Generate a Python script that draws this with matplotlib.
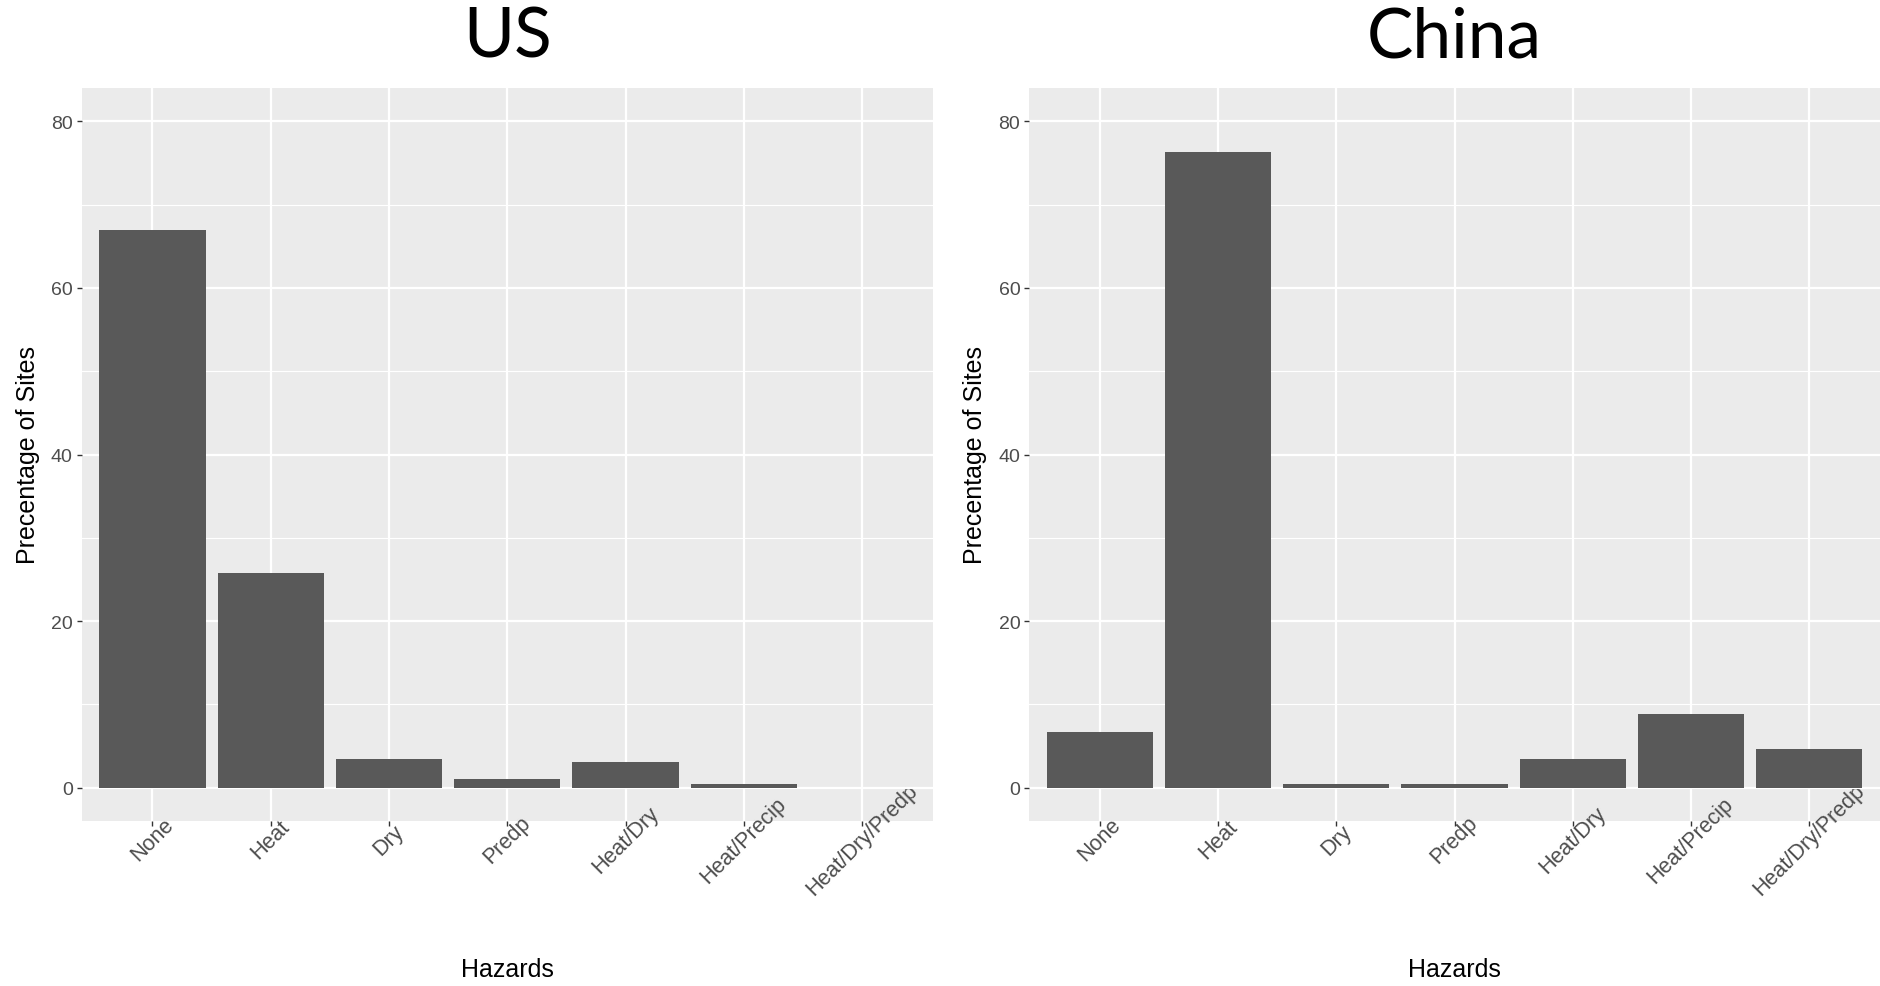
import numpy as np
import matplotlib.pyplot as plt

hazards = ['None', 'Heat', 'Dry', 'Precip', 'Heat/Dry', 'Heat/Precip', 'Heat/Dry/Precip']
tick_labels = ['None', 'Heat', 'Dry', 'Predp', 'Heat/Dry', 'Heat/Precip', 'Heat/Dry/Predp']
us_pct = [67.0, 25.8, 3.5, 1.0, 3.1, 0.5, 0.0]
china_pct = [6.7, 76.3, 0.4, 0.4, 3.5, 8.9, 4.6]
y_ticks = [0, 20, 40, 60, 80]
y_minor = [10, 30, 50, 70]

plt.rcParams['font.family'] = ['Liberation Sans', 'DejaVu Sans']

fig = plt.figure(figsize=(18.8, 9.87), dpi=100)

panels = [
    ('US', us_pct, [81.5 / 1880, 165 / 987, 851.5 / 1880, 733 / 987]),
    ('China', china_pct, [1029 / 1880, 165 / 987, 851 / 1880, 733 / 987]),
]

for title, values, rect in panels:
    ax = fig.add_axes(rect)
    ax.set_facecolor('#EBEBEB')
    x = np.arange(len(hazards))
    ax.bar(x, values, width=0.9, color='#595959', zorder=3)

    ax.set_xlim(-0.6, len(hazards) - 0.4)
    ax.set_ylim(-4, 84)
    ax.set_yticks(y_ticks)
    ax.set_yticks(y_minor, minor=True)
    ax.set_xticks(x)
    ax.set_xticklabels(tick_labels, rotation=45, ha='center', va='center')

    ax.grid(True, which='major', color='white', linewidth=1.6, zorder=0)
    ax.grid(True, which='minor', axis='y', color='white', linewidth=0.8, zorder=0)
    ax.set_axisbelow(True)
    for s in ax.spines.values():
        s.set_visible(False)

    ax.tick_params(axis='both', which='major', length=3.3, width=1.0,
                   color='#333333', labelsize=14, labelcolor='#4D4D4D')
    ax.tick_params(axis='x', pad=10, labelsize=15.5)
    ax.tick_params(axis='y', pad=3)
    ax.tick_params(which='minor', length=0)

    ax.set_xlabel('Hazards', fontsize=18, color='black')
    ax.xaxis.set_label_coords(0.5, -0.186)
    ax.set_ylabel('Precentage of Sites', fontsize=18, color='black', labelpad=8)

    cx = rect[0] + rect[2] / 2
    fig.text(cx, 1 - 38 / 987, title, ha='center', va='center',
             fontsize=50, family=['Lato', 'DejaVu Sans'])

fig.savefig('out.png', dpi=100)
